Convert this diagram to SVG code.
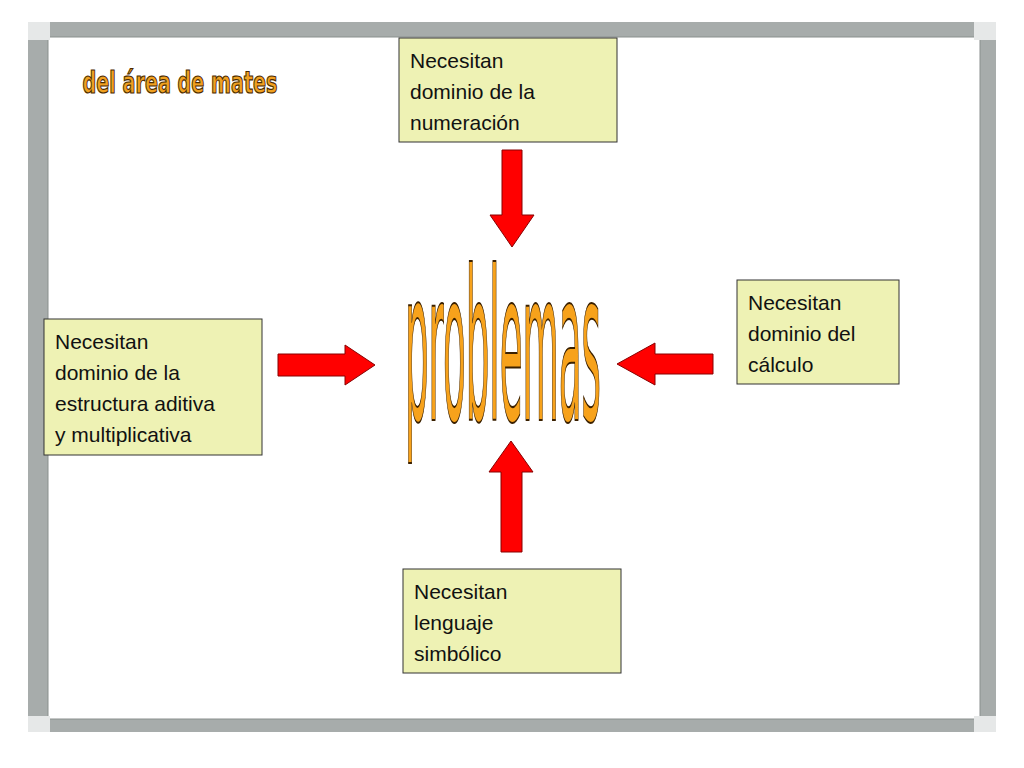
<svg xmlns="http://www.w3.org/2000/svg" width="1024" height="768" viewBox="0 0 1024 768">
<style>
.box{fill:#eef2b4;stroke:#333;stroke-width:1}
.t{font-family:"Liberation Sans",Arial,sans-serif;font-size:21px;fill:#111}
.arr{fill:#f00;stroke:#800;stroke-width:1}
</style>
<rect width="1024" height="768" fill="#fff"/>
<rect x="28" y="22" width="968" height="710" fill="#a7acab"/>
<rect x="48" y="37" width="932" height="682" fill="#fff" stroke="#8a8f8e"/>
<rect x="28" y="22" width="22" height="18" fill="#e6e8e8"/>
<rect x="974" y="22" width="22" height="18" fill="#e6e8e8"/>
<rect x="28" y="716" width="22" height="16" fill="#e6e8e8"/>
<rect x="974" y="716" width="22" height="16" fill="#e6e8e8"/>
<text x="180" y="93" text-anchor="middle" font-family="DejaVu Sans Condensed,sans-serif" font-weight="bold" font-size="30" fill="#f0a020" stroke="#4a2a00" stroke-width="1.2" textLength="195" lengthAdjust="spacingAndGlyphs">del área de mates</text>
<g transform="translate(503,420) scale(1,2.6)">
<text x="0" y="0" text-anchor="middle" font-family="DejaVu Sans Condensed,sans-serif" font-size="80" fill="#f7a21b" stroke="#3a2000" stroke-width="0.8" textLength="196" lengthAdjust="spacingAndGlyphs">problemas</text>
</g>
<g id="connectors">
<polygon class="arr" points="502,150 522,150 522,215 534,215 512,247 490,215 502,215"/>
<polygon class="arr" points="278,354 345,354 345,345 375,365 345,385 345,376 278,376"/>
<polygon class="arr" points="713,354 655,354 655,343 617,364 655,385 655,374 713,374"/>
<polygon class="arr" points="501,552 522,552 522,472 533,472 511,441 489,472 501,472"/>
</g>
<g id="top"><rect class="box" x="399" y="38" width="218" height="104"/>
<text class="t" x="410" y="68">Necesitan</text><text class="t" x="410" y="99">dominio de la</text><text class="t" x="410" y="130">numeración</text></g>
<g id="left"><rect class="box" x="44" y="319" width="218" height="136"/>
<text class="t" x="55" y="349">Necesitan</text><text class="t" x="55" y="380">dominio de la</text><text class="t" x="55" y="411">estructura aditiva</text><text class="t" x="55" y="442">y multiplicativa</text></g>
<g id="right"><rect class="box" x="737" y="280" width="162" height="104"/>
<text class="t" x="748" y="310">Necesitan</text><text class="t" x="748" y="341">dominio del</text><text class="t" x="748" y="372">cálculo</text></g>
<g id="bottom"><rect class="box" x="403" y="569" width="218" height="104"/>
<text class="t" x="414" y="599">Necesitan</text><text class="t" x="414" y="630">lenguaje</text><text class="t" x="414" y="661">simbólico</text></g>
</svg>
